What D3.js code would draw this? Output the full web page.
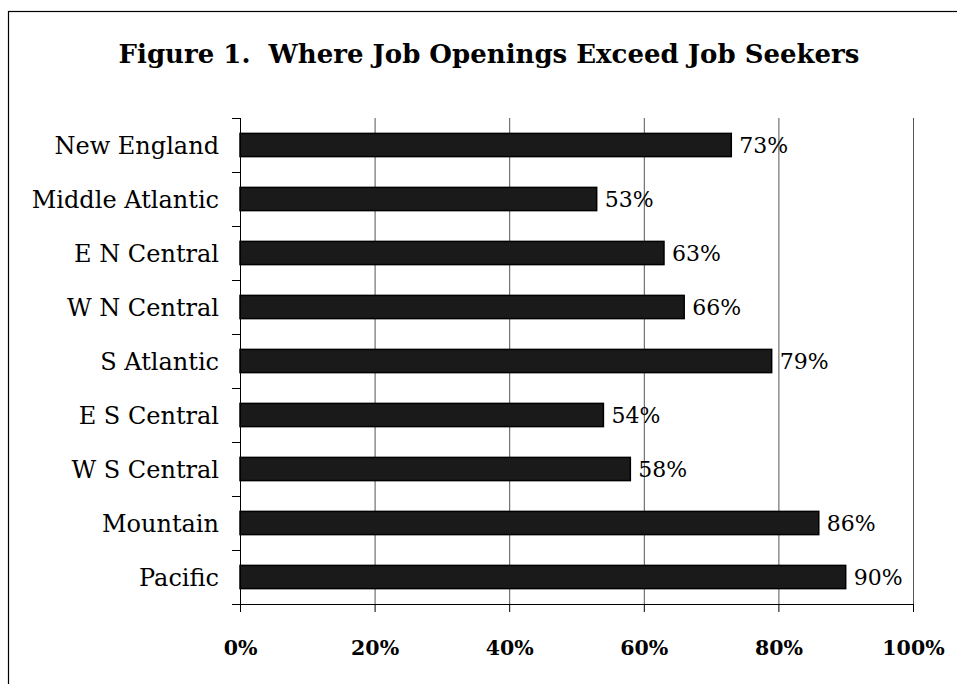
<!DOCTYPE html>
<meta charset="utf-8">
<style>
  body { margin: 0; background: #fff; }
  text { font-family: "DejaVu Serif", "Liberation Serif", serif; fill: #000; }
</style>
<body>
<div id="vis"></div>
<script src="https://cdn.jsdelivr.net/npm/d3@7"></script>
<script>

const width = 957,
    height = 684;

// data
const regions = ['New England', 'Middle Atlantic', 'E N Central', 'W N Central',
  'S Atlantic', 'E S Central', 'W S Central', 'Mountain', 'Pacific'];
const shares = [73, 53, 63, 66, 79, 54, 58, 86, 90];
const xTicks = [0, 20, 40, 60, 80, 100];

const barColor = '#1a1a1a';

const svg = d3.select('#vis')
    .append('svg')
    .attr('width', width)
    .attr('height', height);

// outer frame (right and bottom edges fall outside the picture)
svg.append('rect')
    .attr('x', 8.5)
    .attr('y', 11.5)
    .attr('width', 1000)
    .attr('height', 700)
    .style('fill', 'none')
    .style('stroke', '#000')
    .style('stroke-width', 1.2);

svg.append('text')
    .attr('x', 489)
    .attr('y', 63)
    .style('font-size', '26px')
    .style('font-weight', 'bold')
    .style('text-anchor', 'middle')
    .style('white-space', 'pre')
    .text('Figure 1.  Where Job Openings Exceed Job Seekers');

const x = d3.scaleLinear()
    .domain([0, 100])
    .range([240, 913]);

const y = d3.scaleBand()
    .domain(regions)
    .range([118, 604])
    .paddingInner(0.57)
    .paddingOuter(0.285);

const chartG = svg.append('g').attr('class', 'chart-group');

// vertical gridlines
chartG.selectAll('.grid')
    .data(xTicks.slice(1))
    .enter().append('line')
    .attr('class', 'grid')
    .attr('x1', d => x(d) + 0.5)
    .attr('x2', d => x(d) + 0.5)
    .attr('y1', 118)
    .attr('y2', 604)
    .style('stroke', '#555')
    .style('stroke-width', 1);

// bars
chartG.selectAll('.bar')
    .data(shares)
    .enter().append('rect')
    .attr('class', 'bar')
    .attr('x', x(0))
    .attr('y', (d, i) => y(regions[i]))
    .attr('width', d => x(d) - x(0))
    .attr('height', y.bandwidth())
    .style('fill', barColor)
    .style('stroke', '#000')
    .style('stroke-width', 1.5);

// value labels
chartG.selectAll('.val')
    .data(shares)
    .enter().append('text')
    .attr('class', 'val')
    .attr('x', d => x(d) + 8)
    .attr('y', (d, i) => y(regions[i]) + y.bandwidth() / 2)
    .attr('dy', '0.36em')
    .style('font-size', '22px')
    .text(d => d + '%');

// x axis
const xAxis = d3.axisBottom(x)
    .tickValues(xTicks)
    .tickSize(8)
    .tickFormat(d => d + '%');
const xg = svg.append('g')
    .attr('transform', 'translate(0,604)')
    .call(xAxis);
xg.select('.domain').attr('d', 'M232,0.5H913');
xg.selectAll('line').style('stroke', '#000');
xg.selectAll('text')
    .attr('y', 36)
    .style('font-size', '20.5px')
    .style('font-weight', 'bold')
    .style('fill', '#000');

// y axis: ticks sit between categories
const boundaries = d3.range(regions.length + 1).map(i => 118 + i * 54);
const yg = svg.append('g').attr('class', 'y-axis');
yg.append('line')
    .attr('x1', 240.5).attr('x2', 240.5)
    .attr('y1', 118).attr('y2', 612)
    .style('stroke', '#000');
yg.selectAll('.ytick')
    .data(boundaries)
    .enter().append('line')
    .attr('class', 'ytick')
    .attr('x1', 232).attr('x2', 240)
    .attr('y1', d => d + 0.5).attr('y2', d => d + 0.5)
    .style('stroke', '#000');
yg.selectAll('.ylab')
    .data(regions)
    .enter().append('text')
    .attr('class', 'ylab')
    .attr('x', 219)
    .attr('y', d => y(d) + y.bandwidth() / 2)
    .attr('dy', '0.36em')
    .style('font-size', '24px')
    .style('text-anchor', 'end')
    .text(d => d);

</script>
</body>
